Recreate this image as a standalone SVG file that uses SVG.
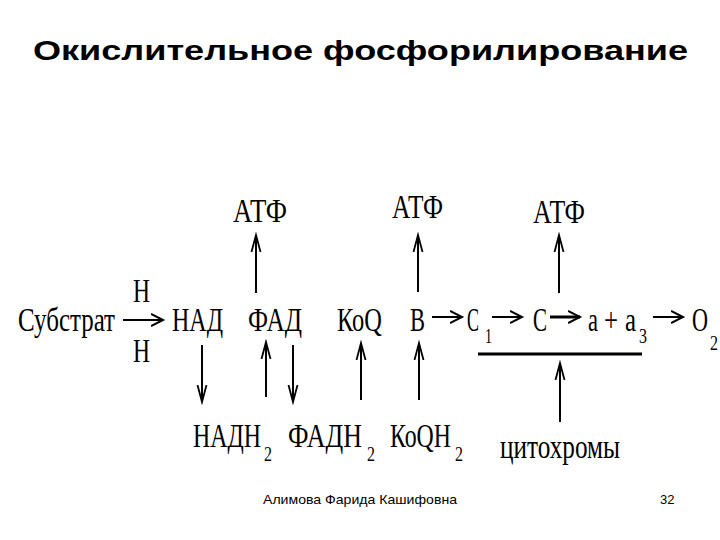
<svg xmlns="http://www.w3.org/2000/svg" width="720" height="540" viewBox="0 0 720 540">
<defs>
<style>
.t{font-family:"Liberation Serif","DejaVu Serif",serif;font-size:34px;fill:#000}
.s{font-size:20px}
.c{stroke:#000;stroke-width:2;fill:none}
.title{font-family:"Liberation Sans",Arial,sans-serif;font-size:28px;font-weight:bold;fill:#000}
.foot{font-family:"Liberation Sans",Arial,sans-serif;font-size:13px;fill:#000}
</style>
<marker id="ah" markerUnits="userSpaceOnUse" markerWidth="16" markerHeight="16" refX="12" refY="6" orient="auto" viewBox="0 0 16 12">
<path d="M0,0 L12,6 L0,12" fill="none" stroke="#000" stroke-width="2"/>
</marker>
<marker id="av" markerUnits="userSpaceOnUse" markerWidth="20" markerHeight="12" refX="17" refY="5" orient="auto" viewBox="0 0 20 10">
<path d="M0,0.5 L17,5 L0,9.5" fill="none" stroke="#000" stroke-width="1.8"/>
</marker>
</defs>
<rect width="720" height="540" fill="#fff"/>
<text class="title" x="33" y="60" textLength="655" lengthAdjust="spacingAndGlyphs">Окислительное фосфорилирование</text>

<g id="substrat"><text class="t" x="18" y="331" textLength="97" lengthAdjust="spacingAndGlyphs">Субстрат</text></g>
<g id="h-top"><text class="t" x="133" y="302" textLength="17" lengthAdjust="spacingAndGlyphs">Н</text></g>
<g id="h-bottom"><text class="t" x="133" y="362" textLength="17" lengthAdjust="spacingAndGlyphs">Н</text></g>
<g id="nad"><text class="t" x="172" y="331" textLength="51" lengthAdjust="spacingAndGlyphs">НАД</text></g>
<g id="fad"><text class="t" x="248" y="331" textLength="54" lengthAdjust="spacingAndGlyphs">ФАД</text></g>
<g id="koq"><text class="t" x="337" y="331" textLength="45" lengthAdjust="spacingAndGlyphs">КоQ</text></g>
<g id="b"><text class="t" x="410" y="331" textLength="15" lengthAdjust="spacingAndGlyphs">В</text></g>
<g id="c1"><text class="t"><tspan x="467" y="331" textLength="12" lengthAdjust="spacingAndGlyphs">С</tspan><tspan class="s" x="485" y="343" textLength="7" lengthAdjust="spacingAndGlyphs">1</tspan></text></g>
<g id="c"><text class="t" x="533" y="331" textLength="14" lengthAdjust="spacingAndGlyphs">С</text></g>
<g id="aa3"><text class="t"><tspan x="588" y="331" textLength="10" lengthAdjust="spacingAndGlyphs">а</tspan><tspan x="604" y="331" textLength="14" lengthAdjust="spacingAndGlyphs">+</tspan><tspan x="625" y="331" textLength="11" lengthAdjust="spacingAndGlyphs">а</tspan><tspan class="s" x="639" y="343" textLength="8" lengthAdjust="spacingAndGlyphs">3</tspan></text></g>
<g id="o2"><text class="t"><tspan x="692" y="331" textLength="16" lengthAdjust="spacingAndGlyphs">О</tspan><tspan class="s" x="710" y="350" textLength="8" lengthAdjust="spacingAndGlyphs">2</tspan></text></g>

<g id="atf1"><text class="t" x="233" y="222" textLength="54" lengthAdjust="spacingAndGlyphs">АТФ</text></g>
<g id="atf2"><text class="t" x="392" y="218" textLength="51" lengthAdjust="spacingAndGlyphs">АТФ</text></g>
<g id="atf3"><text class="t" x="533" y="223" textLength="52" lengthAdjust="spacingAndGlyphs">АТФ</text></g>

<g id="nadh2"><text class="t"><tspan x="193" y="447" textLength="68" lengthAdjust="spacingAndGlyphs">НАДН</tspan><tspan class="s" x="264" y="461" textLength="8" lengthAdjust="spacingAndGlyphs">2</tspan></text></g>
<g id="fadh2"><text class="t"><tspan x="288" y="447" textLength="74" lengthAdjust="spacingAndGlyphs">ФАДН</tspan><tspan class="s" x="367" y="461" textLength="8" lengthAdjust="spacingAndGlyphs">2</tspan></text></g>
<g id="koqh2"><text class="t"><tspan x="390" y="447" textLength="61" lengthAdjust="spacingAndGlyphs">КоQН</tspan><tspan class="s" x="455" y="461" textLength="8" lengthAdjust="spacingAndGlyphs">2</tspan></text></g>
<g id="cyto"><text class="t" x="500" y="458" textLength="120" lengthAdjust="spacingAndGlyphs">цитохромы</text></g>

<g id="connectors" class="c">
<line x1="123" y1="320" x2="163" y2="320" marker-end="url(#ah)"/>
<line x1="432" y1="317" x2="462" y2="317" marker-end="url(#ah)"/>
<line x1="492" y1="317" x2="522" y2="317" marker-end="url(#ah)"/>
<line x1="550" y1="317" x2="580" y2="317" stroke-width="3" marker-end="url(#ah)"/>
<line x1="653" y1="317" x2="683" y2="317" marker-end="url(#ah)"/>
<line x1="256" y1="293" x2="256" y2="235" marker-end="url(#av)"/>
<line x1="418" y1="292" x2="418" y2="235" marker-end="url(#av)"/>
<line x1="559" y1="293" x2="559" y2="235" marker-end="url(#av)"/>
<line x1="202" y1="345" x2="202" y2="402" marker-end="url(#av)"/>
<line x1="266" y1="397" x2="266" y2="342" marker-end="url(#av)"/>
<line x1="293" y1="345" x2="293" y2="402" marker-end="url(#av)"/>
<line x1="361" y1="400" x2="361" y2="343" marker-end="url(#av)"/>
<line x1="419" y1="400" x2="419" y2="343" marker-end="url(#av)"/>
<line x1="560" y1="422" x2="560" y2="363" marker-end="url(#av)"/>
<line x1="478" y1="354" x2="642" y2="354" stroke-width="3"/>
</g>

<text class="foot" x="263" y="504" textLength="194" lengthAdjust="spacingAndGlyphs">Алимова Фарида Кашифовна</text>
<text class="foot" x="660" y="504">32</text>
</svg>
